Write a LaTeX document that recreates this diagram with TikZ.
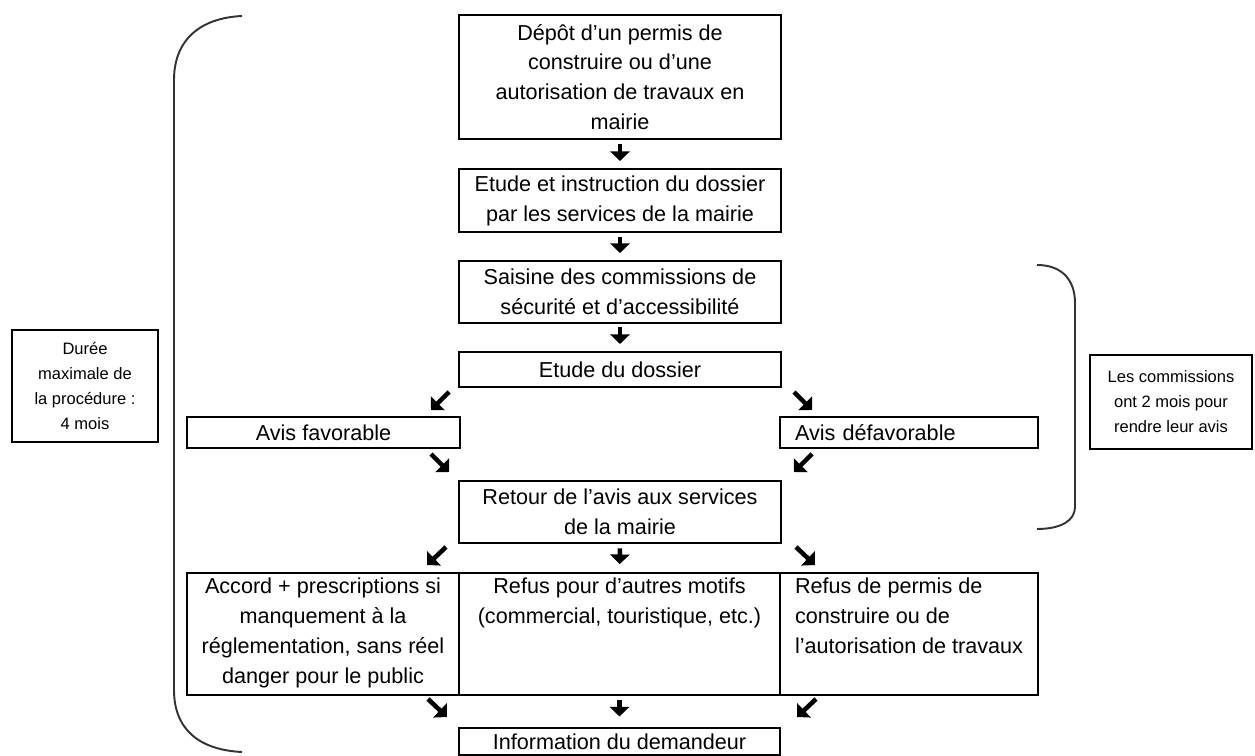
\documentclass[tikz,border=0pt]{standalone}
\usepackage{fontspec}
\setmainfont{Liberation Sans}
\usetikzlibrary{arrows.meta}

\tikzset{
    boite/.style={draw, line width=1.1pt, inner xsep=2pt, inner ysep=3pt, align=center, font=\fontsize{12.3}{17}\selectfont},
    note/.style={draw, line width=1.1pt, inner sep=2pt, align=center, font=\fontsize{9.4}{14.2}\selectfont},
    fleche/.style={line width=2.6pt, -{Triangle[length=5.5pt, width=11pt]}},
    accolade/.style={line width=1.1pt, black!80}
}

\begin{document}
\begin{tikzpicture}[x=0.02cm, y=-0.02cm]
    \useasboundingbox (0, 0) rectangle (1255, 756);

    \node[boite, minimum width=6.44cm, minimum height=2.48cm] (depot) at (620, 77) {Dépôt d'un permis de\\construire ou d'une\\autorisation de travaux en\\mairie};
    \node[boite, minimum width=6.44cm, minimum height=1.26cm] (instruction) at (620, 200.5) {Etude et instruction du dossier\\par les services de la mairie};
    \node[boite, minimum width=6.44cm, minimum height=1.24cm] (saisine) at (620, 292) {Saisine des commissions de\\sécurité et d'accessibilité};
    \node[boite, minimum width=6.44cm, minimum height=0.7cm] (etude) at (620, 369.5) {Etude du dossier};

    \node[boite, minimum width=5.46cm, minimum height=0.62cm] (favorable) at (323.5, 432.5) {Avis favorable};
    \node[boite, minimum width=5.16cm, minimum height=0.62cm, text width=4.56cm, inner xsep=0.3cm, align=left] (defavorable) at (909, 432.5) {Avis défavorable};

    \node[boite, minimum width=6.44cm, minimum height=1.24cm] (retour) at (620, 512) {Retour de l'avis aux services\\de la mairie};

    \node[boite, minimum width=5.44cm, minimum height=2.44cm] (accord) at (323, 634) {\parbox[t][2.23cm][t]{5.3cm}{\centering Accord + prescriptions si\\manquement à la\\réglementation, sans réel\\danger pour le public}};
    \node[boite, minimum width=6.42cm, minimum height=2.44cm] (autres) at (619.5, 634) {\parbox[t][2.23cm][t]{6.2cm}{\centering Refus pour d'autres motifs\\(commercial, touristique, etc.)}};
    \node[boite, minimum width=5.16cm, minimum height=2.44cm, inner xsep=0.3cm] (refus) at (909, 634) {\parbox[t][2.23cm][t]{4.56cm}{\raggedright Refus de permis de\\construire ou de\\l'autorisation de travaux}};

    \node[boite, minimum width=6.42cm, minimum height=0.54cm] (information) at (619.5, 741.5) {Information du demandeur};

    \node[note, minimum width=2.92cm, minimum height=2.24cm] (duree) at (85, 386) {Durée\\maximale de\\la procédure :\\4 mois};
    \node[note, minimum width=3.24cm, minimum height=1.88cm] (delai) at (1171, 402) {Les commissions\\ont 2 mois pour\\rendre leur avis};

    \draw[fleche, shorten <=2.5pt, shorten >=4pt] (depot.south) -- (instruction.north);
    \draw[fleche, shorten <=2.5pt, shorten >=4pt] (instruction.south) -- (saisine.north);
    \draw[fleche, shorten <=1.5pt, shorten >=4pt] (saisine.south) -- (etude.north);
    \draw[fleche, shorten <=2.5pt, shorten >=4.5pt] (retour.south) -- (autres.north);
    \draw[fleche, shorten <=2.5pt, shorten >=6pt] (autres.south) -- (information.north);

    \coordinate (fav1) at (449, 392);
    \coordinate (fav2) at (431, 410);
    \coordinate (def1) at (794, 392);
    \coordinate (def2) at (812, 410);
    \coordinate (fav3) at (431, 454);
    \coordinate (fav4) at (449, 472);
    \coordinate (def3) at (812, 454);
    \coordinate (def4) at (794, 472);
    \coordinate (ret1) at (446, 547);
    \coordinate (ret2) at (427, 565);
    \coordinate (ret3) at (796, 547);
    \coordinate (ret4) at (815, 565);
    \coordinate (acc1) at (428, 699);
    \coordinate (acc2) at (447, 717);
    \coordinate (ref1) at (816, 699);
    \coordinate (ref2) at (797, 717);

    \draw[fleche] (fav1) -- (fav2);
    \draw[fleche] (def1) -- (def2);
    \draw[fleche] (fav3) -- (fav4);
    \draw[fleche] (def3) -- (def4);
    \draw[fleche] (ret1) -- (ret2);
    \draw[fleche] (ret3) -- (ret4);
    \draw[fleche] (acc1) -- (acc2);
    \draw[fleche] (ref1) -- (ref2);

    \draw[accolade] (242, 16) .. controls (200, 18) and (174, 40) .. (174, 80) -- (174, 690) .. controls (174, 730) and (200, 750) .. (242, 752);
    \draw[accolade] (1037, 265) .. controls (1062, 265) and (1075, 280) .. (1075, 303) -- (1075, 507) .. controls (1075, 520) and (1062, 529) .. (1037, 529);
\end{tikzpicture}
\end{document}
